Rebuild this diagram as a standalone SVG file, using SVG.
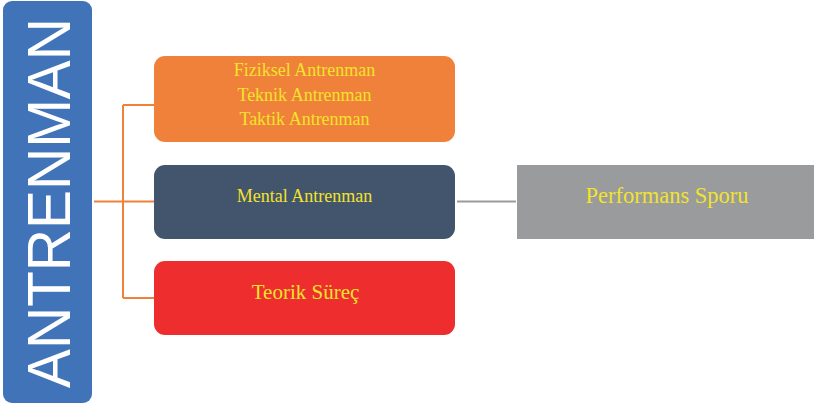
<svg xmlns="http://www.w3.org/2000/svg" width="814" height="410" viewBox="0 0 814 410">
<style>
.t{font-family:"Liberation Serif","Times New Roman",serif;fill:#f2e32c;text-anchor:middle}
.c{fill:none;stroke:#f0813a;stroke-width:2}
</style>
<rect width="814" height="410" fill="#ffffff"/>
<g id="antrenman">
<rect x="3" y="1" width="89" height="402" rx="9" fill="#4173b9"/>
<text transform="translate(70,203) rotate(-90)" font-family="Liberation Sans, Arial, sans-serif" font-size="61" fill="#ffffff" text-anchor="middle" textLength="370" lengthAdjust="spacingAndGlyphs">ANTRENMAN</text>
</g>
<g id="connectors">
<path class="c" d="M94 201.5H154M123 105V298M123 105H154M123 298H154"/>
<path d="M457 201.5H516" fill="none" stroke="#999b9c" stroke-width="2"/>
</g>
<g id="fiziksel">
<rect x="154" y="56" width="301" height="86" rx="11" fill="#f0813a"/>
<text class="t" x="304.5" y="76" font-size="18">Fiziksel Antrenman</text>
<text class="t" x="304.5" y="100.5" font-size="18">Teknik Antrenman</text>
<text class="t" x="304.5" y="125" font-size="18">Taktik Antrenman</text>
</g>
<g id="mental">
<rect x="154" y="165" width="301" height="74" rx="11" fill="#43556c"/>
<text class="t" x="304.5" y="201.5" font-size="18">Mental Antrenman</text>
</g>
<g id="teorik">
<rect x="154" y="261" width="301" height="74" rx="11" fill="#ee2e2e"/>
<text class="t" x="305.5" y="299" font-size="21">Teorik Süreç</text>
</g>
<g id="performans">
<rect x="517" y="165" width="297" height="74" fill="#999b9c"/>
<text class="t" x="667" y="203" font-size="22.5">Performans Sporu</text>
</g>
</svg>
